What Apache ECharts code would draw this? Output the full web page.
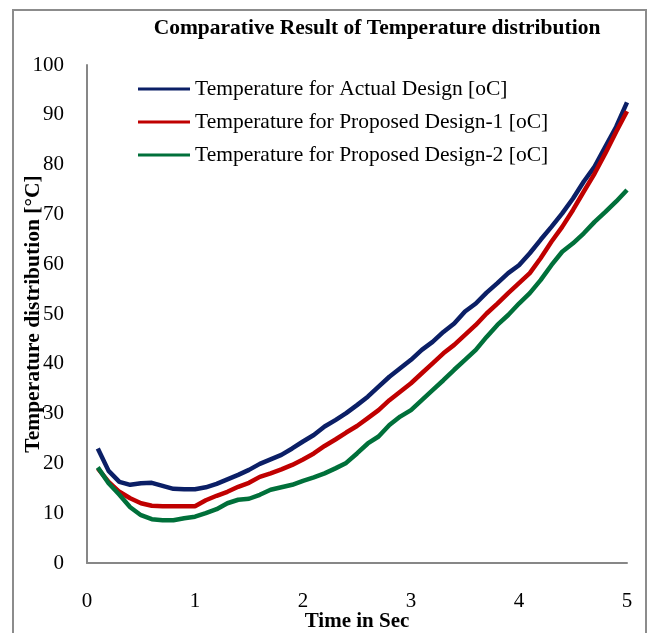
<!DOCTYPE html>
<html>
<head>
<meta charset="utf-8">
<script src="https://cdn.jsdelivr.net/npm/echarts@6/dist/echarts.min.js"></script>
<style>
html,body{margin:0;padding:0;background:#fff;}
#c{width:656px;height:633px;}
</style>
</head>
<body>
<div id="c"></div>
<script>
const times = [0.1,0.2,0.3,0.4,0.5,0.6,0.7,0.8,0.9,1.0,
  1.1,1.2,1.3,1.4,1.5,1.6,1.7,1.8,1.9,2.0,
  2.1,2.2,2.3,2.4,2.5,2.6,2.7,2.8,2.9,3.0,
  3.1,3.2,3.3,3.4,3.5,3.6,3.7,3.8,3.9,4.0,
  4.1,4.2,4.3,4.4,4.5,4.6,4.7,4.8,4.9,5.0];
const actualDesign = [23,18.5,16.3,15.7,16,16.1,15.5,14.9,14.8,14.8,
  15.2,15.9,16.8,17.7,18.7,19.9,20.8,21.7,23,24.4,
  25.7,27.4,28.7,30.1,31.7,33.4,35.4,37.4,39.1,40.8,
  42.8,44.4,46.4,48.1,50.5,52.1,54.3,56.2,58.2,59.8,
  62.2,64.9,67.5,70.2,73.2,76.6,79.6,83.6,87.6,92.5];
const proposedDesign1 = [19,16.3,14.3,13,12,11.5,11.4,11.4,11.4,11.4,
  12.6,13.5,14.3,15.3,16.1,17.3,18,18.8,19.7,20.8,
  22,23.5,24.8,26.2,27.5,29.1,30.7,32.7,34.4,36.1,
  38.1,40.1,42.1,43.8,45.8,47.8,50.1,52.1,54.2,56.2,
  58.2,61.2,64.5,67.5,70.9,74.6,78.2,82.3,86.6,90.7];
const proposedDesign2 = [19.2,16,13.7,11.2,9.6,8.8,8.6,8.6,9,9.3,
  10,10.8,12,12.7,12.9,13.7,14.7,15.2,15.7,16.5,
  17.2,18,19,20.1,22,24,25.4,27.7,29.4,30.7,
  32.7,34.7,36.7,38.8,40.8,42.8,45.4,47.8,49.8,52.1,
  54.2,56.8,59.8,62.5,64.2,66.2,68.5,70.5,72.6,74.9];
const seriesNames = ['Temperature for Actual Design [oC]','Temperature for Proposed Design-1 [oC]','Temperature for Proposed Design-2 [oC]'];
const seriesColors = ['#0B1F66','#C00000','#00703A'];
const seriesValues = [actualDesign, proposedDesign1, proposedDesign2];

const serif = "'Liberation Serif','Times New Roman',serif";
const chart = echarts.init(document.getElementById('c'), null, {renderer:'canvas'});
chart.setOption({
  animation:false,
  backgroundColor:'#fff',
  title:{
    text:'Comparative Result of Temperature distribution',
    left:372, top:12, textAlign:'center',
    textStyle:{fontFamily:serif,fontSize:21.5,fontWeight:'bold',color:'#000'}
  },
  graphic:[{
    type:'rect', shape:{x:13,y:10,width:633,height:640},
    style:{fill:'none',stroke:'#8c8c8c',lineWidth:2}, silent:true
  }],
  legend:{
    orient:'vertical', left:133, top:73,
    itemWidth:52, itemHeight:3, itemGap:11,
    icon:'rect',
    textStyle:{fontFamily:serif,fontSize:21.5,color:'#000',lineHeight:22},
    data:seriesNames
  },
  grid:{left:87,right:29,top:65,bottom:70,containLabel:false,outerBoundsMode:'none'},
  xAxis:{
    type:'value', min:0, max:5, interval:1,
    name:'Time in Sec', nameLocation:'middle', nameGap:48, nameMoveOverlap:false,
    nameTextStyle:{fontFamily:serif,fontSize:21,fontWeight:'bold',color:'#000'},
    axisLine:{show:true,lineStyle:{color:'#878787',width:2}},
    axisTick:{show:false}, splitLine:{show:false},
    axisLabel:{fontFamily:serif,fontSize:21,color:'#000',margin:28}
  },
  yAxis:{
    type:'value', min:0, max:100, interval:10,
    name:'Temperature distribution [°C]', nameLocation:'middle', nameGap:43, nameMoveOverlap:false,
    nameTextStyle:{fontFamily:serif,fontSize:21.5,fontWeight:'bold',color:'#000'},
    axisLine:{show:true,lineStyle:{color:'#878787',width:2}},
    axisTick:{show:false}, splitLine:{show:false},
    axisLabel:{fontFamily:serif,fontSize:21,color:'#000',margin:23}
  },
  series: seriesNames.map((n,i)=>({
    name:n, type:'line', showSymbol:false, smooth:false,
    color:seriesColors[i],
    lineStyle:{width:4.5,color:seriesColors[i]},
    data: times.map((t,j)=>[t, seriesValues[i][j]])
  }))
});
</script>
</body>
</html>
